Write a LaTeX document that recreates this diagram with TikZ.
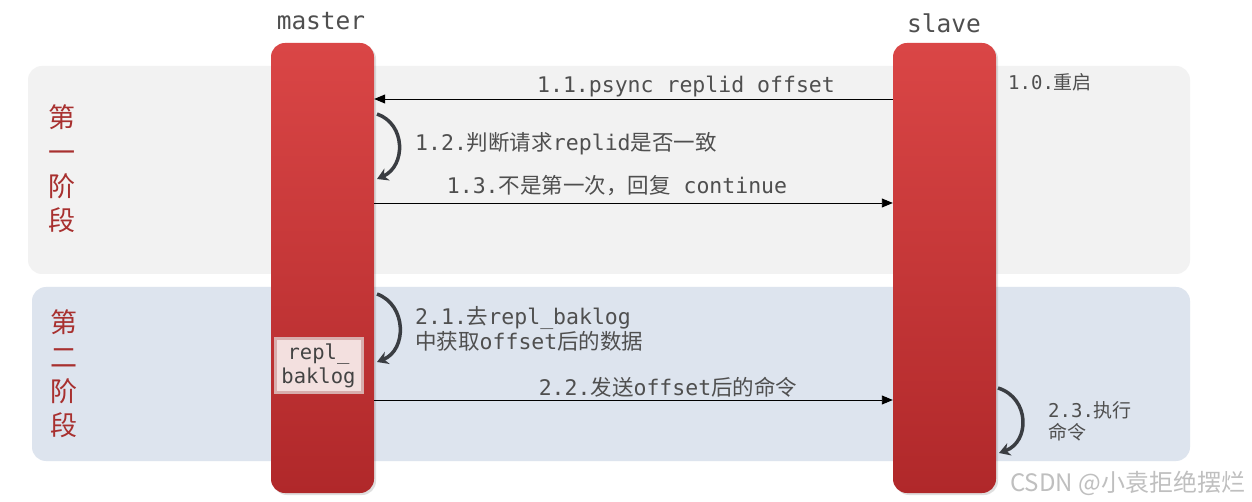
\documentclass[tikz,border=0pt]{standalone}
\usepackage{fontspec}
\setmainfont{DejaVu Sans Mono}
\newfontfamily\cjk{Noto Sans CJK SC}
\newcommand\zh[1]{{\cjk #1}}
\usetikzlibrary{arrows.meta,shadows}
\definecolor{barTop}{HTML}{DA4646}
\definecolor{barBot}{HTML}{B0282A}
\definecolor{phaseA}{HTML}{F2F2F2}
\definecolor{phaseB}{HTML}{DDE4EE}
\definecolor{txt}{HTML}{4F4F4F}
\definecolor{phasetxt}{HTML}{A8302F}
\definecolor{loopc}{HTML}{3A3D42}
\definecolor{logfill}{HTML}{F3E0DF}
\definecolor{logedge}{HTML}{D8AEAD}
\tikzset{
  bar/.style={rectangle, rounded corners=14bp, minimum width=103bp, minimum height=450bp,
    top color=barTop, bottom color=barBot, inner sep=0pt,
    drop shadow={shadow xshift=2bp, shadow yshift=-2bp, opacity=0.25}},
  phase/.style={fill=#1, rounded corners=14bp, draw=none},
  lbl/.style={text=txt, inner sep=0pt, font=\fontsize{21.5bp}{25bp}\selectfont},
  small/.style={text=txt, inner sep=0pt, align=left, font=\fontsize{19bp}{22bp}\selectfont},
  head/.style={text=txt, inner sep=0pt, font=\fontsize{24.5bp}{28bp}\selectfont},
  phaselbl/.style={text=phasetxt, inner sep=0pt, align=center, font=\cjk\fontsize{27bp}{34.2bp}\selectfont},
  msg/.style={draw=black, line width=0.9bp, -{Triangle[length=11bp,width=9bp]}},
  loop/.style={draw=loopc, line width=3.5bp, -{Stealth[length=11bp,width=13bp]}},
}
\begin{document}
\begin{tikzpicture}[x=1bp,y=-1bp]
\useasboundingbox (0,0) rectangle (1252,502);
\fill[white] (0,0) rectangle (1252,502);
% phase backgrounds
\path[phase=phaseA] (28,66) rectangle (1190,274);
\path[phase=phaseB] (32,287) rectangle (1190,461);
\node[phaselbl] (p1) at (62,169) {第\\一\\阶\\段};
\node[phaselbl] (p2) at (64,374) {第\\二\\阶\\段};
% bars
\node[bar] (master) at (322.5,268) {};
\node[bar] (slave) at (944.5,268) {};
\node[head, anchor=base] (mlabel) at (321,30) {master};
\node[head, anchor=base] (slabel) at (944,33) {slave};
% repl_baklog
\node[draw=logedge, line width=3bp, fill=logfill, minimum width=87bp, minimum height=54bp,
      inner sep=0pt, align=center, text=txt!85!black, font=\fontsize{20.5bp}{24bp}\selectfont] (log) at (318.5,366) {repl\_\\baklog};
% 1.0
\node[small, anchor=base west] (l10) at (1008,90) {1.0.\zh{重启}};
% 1.1
\coordinate (a11) at (0,99);
\draw[msg] (slave.west |- a11) -- (master.east |- a11);
\node[lbl, anchor=base] (l11) at (686,93) {1.1.psync replid offset};
% 1.2 loop
\coordinate (s12) at (377,114);
\coordinate (e12) at (377,179);
\draw[loop] (s12) .. controls (406,124) and (406,166) .. (e12);
\node[lbl, anchor=base west] (l12) at (415,151) {1.2.\zh{判断请求}replid\zh{是否一致}};
% 1.3
\coordinate (a13) at (0,203);
\draw[msg] (master.east |- a13) -- (slave.west |- a13);
\node[lbl, anchor=base] (l13) at (617,194) {1.3.\zh{不是第一次，回复} continue};
% 2.1 loop
\coordinate (s21) at (377,294);
\coordinate (e21) at (377,362);
\draw[loop] (s21) .. controls (407,305) and (407,350) .. (e21);
\node[lbl, anchor=base west, align=left] (l21) at (415,350) {2.1.\zh{去}repl\_baklog\\\zh{中获取}offset\zh{后的数据}};
% 2.2
\coordinate (a22) at (0,400);
\draw[msg] (master.east |- a22) -- (slave.west |- a22);
\node[lbl, anchor=base] (l22) at (668,395) {2.2.\zh{发送}offset\zh{后的命令}};
% 2.3 loop
\coordinate (s23) at (998,388);
\coordinate (e23) at (999,453);
\draw[loop] (s23) .. controls (1030,398) and (1030,442) .. (e23);
\node[small, anchor=base west] (l23) at (1048,439) {2.3.\zh{执行}\\\zh{命令}};
% watermark
\node[anchor=base west, inner sep=0pt, text=black!25, font=\cjk\fontsize{24bp}{28bp}\selectfont] (wm) at (1010,491) {CSDN @小袁拒绝摆烂};
\end{tikzpicture}
\end{document}
